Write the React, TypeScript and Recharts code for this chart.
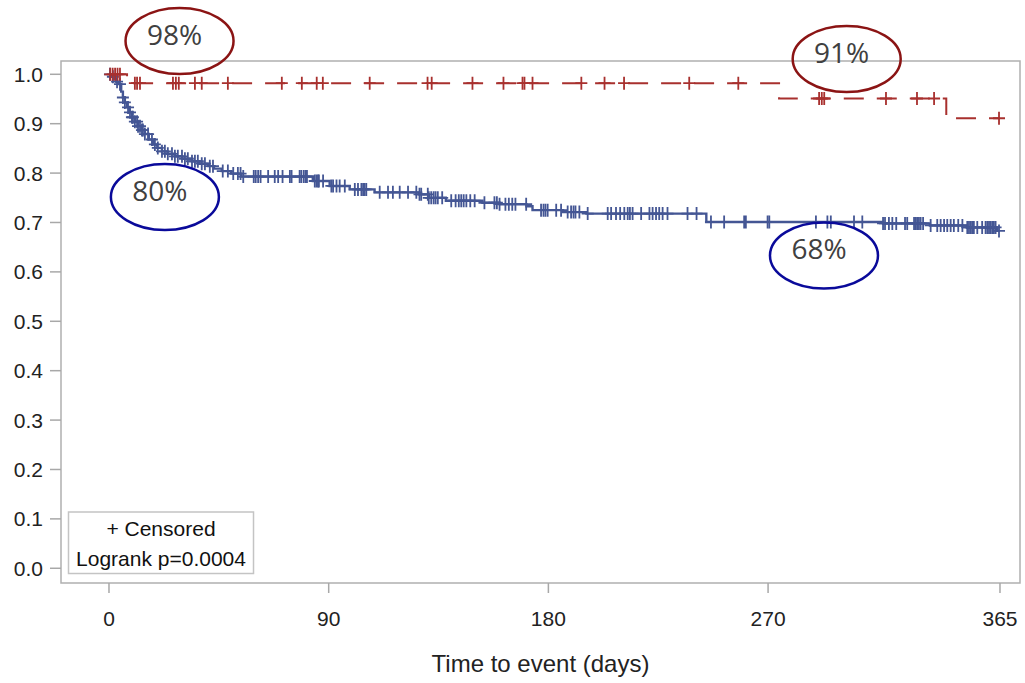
import React from 'react';
import { ComposedChart, Line, Scatter, XAxis, YAxis, ReferenceArea, ReferenceDot } from 'recharts';

// Kaplan-Meier step curve, group 1 (blue, solid)
const blueStepDays = [0, 1, 2, 3, 4, 5, 5.7, 6.5, 7.4, 8.4, 9.4, 10.6, 11.9, 13.3, 14.7, 16.3, 18, 19.8, 21.7, 24, 27, 30, 34, 37, 40.5, 43, 46.2, 50, 54, 83.5, 90.4, 98.6, 108.8, 127, 131, 138, 153, 160, 171, 173.5, 186, 195.6, 244.7, 317.1, 336.3, 351.5, 363.8, 365];
const blueStepSurv = [1.0, 0.995, 0.99, 0.985, 0.98, 0.965, 0.953, 0.943, 0.933, 0.923, 0.913, 0.904, 0.895, 0.887, 0.879, 0.868, 0.858, 0.851, 0.844, 0.839, 0.834, 0.829, 0.824, 0.819, 0.814, 0.809, 0.804, 0.799, 0.793, 0.784, 0.774, 0.767, 0.761, 0.757, 0.75, 0.744, 0.74, 0.737, 0.733, 0.725, 0.721, 0.718, 0.701, 0.698, 0.694, 0.69, 0.683, 0.683];

// Kaplan-Meier step curve, group 2 (red, dashed)
const redStepDays = [0, 7.4, 274.5, 343, 365];
const redStepSurv = [1.0, 0.982, 0.951, 0.911, 0.911];

// Censoring times
const blueCensorDays = [0.4, 1.6, 3.3, 4.5, 5.7, 6.5, 7.8, 8.6, 9.4, 9.8, 10.6, 11.5, 11.9, 12.7, 13.5, 13.9, 14.7, 16, 17.6, 18.8, 20, 21.7, 22.9, 24.1, 25.8, 27, 28.2, 29.9, 31.1, 32.3, 34, 35.2, 36.4, 38, 39.3, 41.3, 42.6, 46.6, 48.7, 50.9, 52.8, 53.9, 55, 59.3, 60.1, 61.1, 62.1, 65.2, 67.9, 69.3, 71.1, 74.1, 74.8, 78.1, 78.8, 79.8, 80.6, 81.1, 84.3, 85, 85.6, 86, 87.7, 91.1, 91.8, 93.2, 94.5, 96.6, 100.7, 102, 103.4, 104.1, 104.7, 105.4, 110.9, 114.3, 116.3, 119.1, 122.5, 125.9, 127.2, 127.9, 130.6, 131, 132, 133, 133.8, 134.7, 136.5, 140.2, 142, 143.3, 144.3, 145.3, 146.4, 148, 149.8, 153.8, 157.9, 158.9, 160, 162.4, 163.8, 165.2, 166.5, 170.9, 177, 178, 178.8, 179.7, 183.2, 185.2, 187.9, 189.3, 190.3, 191.1, 192.7, 196.1, 204.3, 205.7, 207.7, 209.4, 211.1, 212.5, 213.4, 214.5, 218, 221.4, 222.7, 224.1, 225.4, 226.8, 228.8, 237, 240.7, 246.6, 252, 260.2, 260.9, 269.8, 270.5, 289.6, 294.3, 295.7, 305.2, 308.6, 317.1, 317.9, 319.5, 320.9, 322.5, 326.1, 327, 329.8, 330.5, 331.1, 331.8, 332.5, 333.5, 336.6, 339.3, 340.7, 342.1, 343.4, 344.8, 346.1, 347.9, 349.6, 351.6, 352.3, 353, 353.6, 354.3, 355.7, 357.7, 359.1, 359.8, 360.5, 361.1, 361.8, 362.5, 363.2, 364.6];
const redCensorDays = [0.5, 1.5, 2.5, 3.5, 4.5, 10.6, 11.5, 12.7, 26.2, 27.4, 28.6, 35.2, 38, 48.7, 70.8, 79, 85.1, 87.6, 106.8, 130.5, 132.2, 148.9, 161.6, 169.4, 170.2, 173.5, 193.5, 203, 211, 237.7, 257.8, 290.9, 292, 293, 318.3, 331, 338, 364.6];

// Axis ticks
const xTicks = [0, 90, 180, 270, 365];
const yTicks = [0, 0.1, 0.2, 0.3, 0.4, 0.5, 0.6, 0.7, 0.8, 0.9, 1.0];

// Annotations (circled percentages)
const annLabels = ['98%', '91%', '80%', '68%'];
const annDays = [28.9, 302.2, 22.9, 292.9];
const annSurv = [1.0674, 1.031, 0.7516, 0.6332];
const annColors = ['#8B1414', '#8B1414', '#0A0A9A', '#0A0A9A'];

const legendLines = ['+ Censored', 'Logrank p=0.0004'];

const BLUE = '#445694';
const RED = '#A8302E';

const toSeries = (days: number[], surv: number[]) => days.map((t, i) => ({ t, s: surv[i] }));
const survAt = (days: number[], surv: number[], t: number) => {
  let v = surv[0];
  for (let i = 0; i < days.length; i++) if (days[i] <= t) v = surv[i];
  return v;
};
const censorSeries = (cd: number[], days: number[], surv: number[]) => cd.map((t) => ({ t, s: survAt(days, surv, t) }));

const blueLine = toSeries(blueStepDays, blueStepSurv);
const redLine = toSeries(redStepDays, redStepSurv);
const blueCensor = censorSeries(blueCensorDays, blueStepDays, blueStepSurv);
const redCensor = censorSeries(redCensorDays, redStepDays, redStepSurv);

const plusShape = (color: string) => (props: any) => {
  const { cx, cy } = props;
  if (cx == null || cy == null) return <g />;
  return (
    <path d={`M${cx - 6},${cy}H${cx + 6}M${cx},${cy - 6.5}V${cy + 6.5}`} stroke={color} strokeWidth={1.8} fill="none" />
  );
};

const annShape = (label: string, color: string) => (props: any) => {
  const { cx, cy } = props;
  return (
    <g>
      <ellipse cx={cx} cy={cy} rx={54} ry={33} fill="none" stroke={color} strokeWidth={2.5} />
      <text x={cx - 5} y={cy + 4} textAnchor="middle" fontFamily="'Open Sans', 'Noto Sans', sans-serif" fontSize={28} fill="#404040">
        {label}
      </text>
    </g>
  );
};

const FONT = "'Liberation Sans', Arial, sans-serif";

export default function App() {
  return (
    <div style={{ position: 'absolute', left: 0, top: 0, width: 1025, height: 683, background: '#fff' }}>
      <ComposedChart width={1025} height={683} margin={{ top: 61, right: 5, left: 0, bottom: 0 }}>
        <XAxis
          type="number"
          dataKey="t"
          domain={[-19.66, 373.2]}
          allowDataOverflow
          ticks={xTicks}
          axisLine={false}
          tickLine={{ stroke: '#a8a8a8', strokeWidth: 1.5 }}
          tickSize={10}
          tickMargin={18}
          height={100}
          tick={{ fontFamily: FONT, fontSize: 21, fill: '#222' }}
          label={{ value: 'Time to event (days)', position: 'insideBottom', offset: 11, style: { fontFamily: FONT, fontSize: 24, fill: '#222' } }}
        />
        <YAxis
          type="number"
          dataKey="s"
          domain={[-0.0298, 1.0269]}
          allowDataOverflow
          ticks={yTicks}
          tickFormatter={(v: number) => v.toFixed(1)}
          axisLine={false}
          tickLine={{ stroke: '#a8a8a8', strokeWidth: 1.5 }}
          tickSize={11}
          tickMargin={7}
          width={61}
          tick={{ fontFamily: FONT, fontSize: 21, fill: '#222' }}
        />
        <ReferenceArea x1={-19.66} x2={373.2} y1={-0.0298} y2={1.0269} fill="none" fillOpacity={0} stroke="#b0b0b0" strokeWidth={1.5} ifOverflow="visible" />
        <Line data={blueLine} dataKey="s" type="stepAfter" stroke={BLUE} strokeWidth={2.4} dot={false} activeDot={false} isAnimationActive={false} />
        <Scatter data={blueCensor} dataKey="s" shape={plusShape(BLUE)} isAnimationActive={false} />
        <Line data={redLine} dataKey="s" type="stepAfter" stroke={RED} strokeWidth={2} strokeDasharray="20 13" dot={false} activeDot={false} isAnimationActive={false} />
        <Scatter data={redCensor} dataKey="s" shape={plusShape(RED)} isAnimationActive={false} />
        {annLabels.map((lab, i) => (
          <ReferenceDot key={lab} x={annDays[i]} y={annSurv[i]} ifOverflow="visible" shape={annShape(lab, annColors[i])} />
        ))}
      </ComposedChart>
      <svg width={1025} height={683} style={{ position: 'absolute', left: 0, top: 0, pointerEvents: 'none' }}>
        <rect x={68.5} y={512} width={185} height={61.5} fill="#fff" stroke="#c4c4c4" strokeWidth={1.5} />
        <text x={161} y={536} textAnchor="middle" fontFamily={FONT} fontSize={21} fill="#111">{legendLines[0]}</text>
        <text x={161} y={565.5} textAnchor="middle" fontFamily={FONT} fontSize={21} fill="#111">{legendLines[1]}</text>
      </svg>
    </div>
  );
}
